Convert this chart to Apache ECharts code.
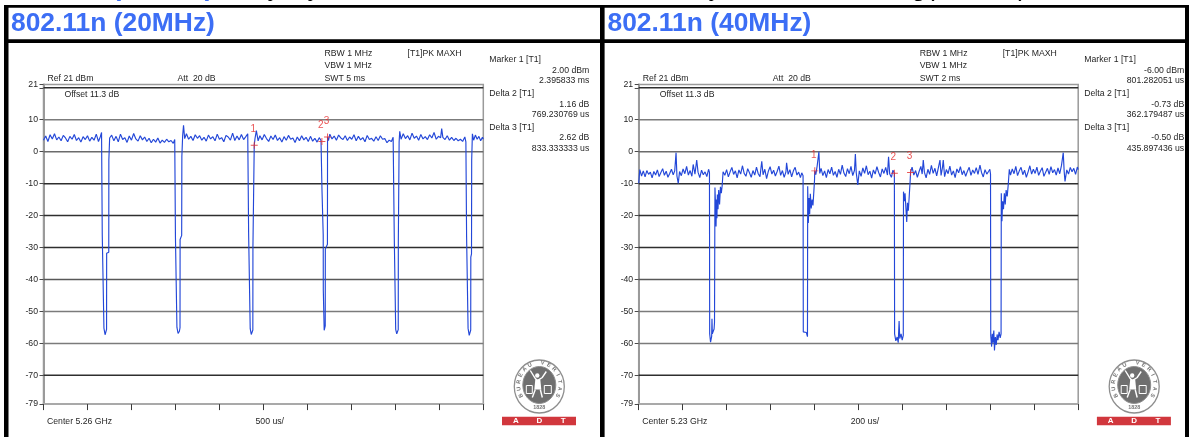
<!DOCTYPE html>
<html><head><meta charset="utf-8">
<script src="https://cdn.jsdelivr.net/npm/echarts@6/dist/echarts.min.js"></script>
<style>html,body{margin:0;padding:0;background:#fff}#c{width:1189px;height:437px}</style>
</head><body><div id="c"></div>
<script>
// ---------------- data ----------------
const titles = ['802.11n (20MHz)', '802.11n (40MHz)'];
const yTickValues = [21, 20, 10, 0, -10, -20, -30, -40, -50, -60, -70, -79];
const yLabelValues = [21, 10, 0, -10, -20, -30, -40, -50, -60, -70, -79];
const gridLevels = [20, 10, 0, -10, -20, -30, -40, -50, -60, -70];
const sweep20 = [0, 5];     // ms, 500 us/div
const sweep40 = [0, 2];     // ms, 200 us/div
const div20 = 0.5;
const div40 = 0.2;
const markerNames = ['1', '2', '3'];
const markers20 = [[2.395833, 2.00], [3.165064, 3.16], [3.229166, 4.62]];
const markers40 = [[0.801282, -6.00], [1.163461, -6.73], [1.237179, -6.50]];
const setup20 = ['Ref 21 dBm', 'Att  20 dB', 'RBW 1 MHz', 'VBW 1 MHz', 'SWT 5 ms', '[T1]PK MAXH', 'Offset 11.3 dB', 'Center 5.26 GHz', '500 us/'];
const setup40 = ['Ref 21 dBm', 'Att  20 dB', 'RBW 1 MHz', 'VBW 1 MHz', 'SWT 2 ms', '[T1]PK MAXH', 'Offset 11.3 dB', 'Center 5.23 GHz', '200 us/'];
const readout20 = ['Marker 1 [T1]', '2.00 dBm', '2.395833 ms', 'Delta 2 [T1]', '1.16 dB', '769.230769 us', 'Delta 3 [T1]', '2.62 dB', '833.333333 us'];
const readout40 = ['Marker 1 [T1]', '-6.00 dBm', '801.282051 us', 'Delta 2 [T1]', '-0.73 dB', '362.179487 us', 'Delta 3 [T1]', '-0.50 dB', '435.897436 us'];

// trace: [time ms, level dBm]
const trace20 = [
[0,3.6],[0.025,4.9],[0.05,3.2],[0.075,5.3],[0.1,4.0],[0.125,5.6],[0.15,3.7],[0.175,4.6],[0.2,3.4],[0.225,5.1],[0.25,4.3],[0.275,3.1],[0.3,4.8],[0.325,3.9],[0.35,5.4],[0.375,3.5],[0.4,4.4],[0.425,3.0],[0.45,4.7],[0.475,3.8],[0.5,5.0],[0.525,3.3],[0.55,4.5],[0.575,3.6],[0.6,5.5],[0.625,3.2],[0.645,4.6],[0.66,6.0],
[0.668,-26.0],[0.686,-26.4],[0.687,-55.2],[0.7,-57.3],[0.712,-56.8],[0.717,-55.6],[0.718,-31.8],[0.742,-31.5],[0.743,-2.6],[0.752,4.3],
[0.775,5.2],[0.8,3.4],[0.825,4.8],[0.85,3.1],[0.875,5.5],[0.9,3.8],[0.925,4.4],[0.95,2.9],[0.975,4.9],[1.0,3.6],[1.025,5.7],[1.05,4.0],[1.075,3.3],[1.1,5.0],[1.125,3.7],[1.15,4.6],[1.175,3.2],[1.2,4.2],[1.225,2.8],[1.25,3.9],[1.275,3.0],[1.3,4.3],[1.325,2.7],[1.35,3.6],[1.375,2.9],[1.4,3.9],[1.425,3.1],[1.45,3.5],[1.475,2.6],[1.492,3.8],
[1.5,-26.6],[1.516,-27.0],[1.517,-55.0],[1.53,-56.9],[1.545,-56.2],[1.552,-55.1],[1.553,-27.5],[1.571,-26.2],[1.573,-1.5],[1.582,5.0],[1.592,8.3],
[1.605,4.1],[1.625,5.6],[1.65,3.9],[1.675,4.8],[1.7,3.5],[1.725,5.3],[1.75,4.2],[1.775,5.0],[1.8,3.6],[1.825,4.5],[1.85,3.3],[1.875,5.2],[1.9,4.0],[1.925,4.7],[1.95,3.4],[1.975,5.5],[2.0,3.9],[2.025,4.4],[2.05,3.1],[2.075,5.1],[2.1,4.6],[2.125,3.6],[2.15,5.8],[2.175,3.5],[2.2,4.9],[2.225,3.7],[2.25,5.4],[2.275,3.8],[2.3,4.7],[2.322,5.6],
[2.332,-25.5],[2.349,-25.9],[2.35,-55.4],[2.362,-57.2],[2.374,-56.9],[2.38,-55.8],[2.381,-30.0],[2.394,-29.5],[2.3958,2.0],[2.405,4.2],
[2.42,6.6],[2.44,3.4],[2.46,5.0],[2.485,3.7],[2.51,5.4],[2.535,4.1],[2.56,3.2],[2.585,4.9],[2.61,3.8],[2.635,5.2],[2.66,3.5],[2.685,4.4],[2.71,3.0],[2.735,4.7],[2.76,3.6],[2.785,5.1],[2.81,3.9],[2.835,4.3],[2.86,2.9],[2.885,4.6],[2.91,3.4],[2.935,5.0],[2.96,3.7],[2.985,4.5],[3.01,3.2],[3.035,4.8],[3.06,3.3],[3.085,4.2],[3.11,3.0],[3.135,4.4],[3.155,3.5],
[3.1651,3.16],[3.166,-12.0],[3.18,-26.0],[3.181,-43.3],[3.19,-43.6],[3.191,-55.9],[3.203,-54.5],[3.204,-30.5],[3.228,-29.0],[3.2292,4.62],[3.24,3.5],
[3.255,5.5],[3.28,4.0],[3.305,4.9],[3.33,3.6],[3.355,5.2],[3.38,4.3],[3.405,3.8],[3.43,5.0],[3.455,3.5],[3.48,4.6],[3.505,3.9],[3.53,5.3],[3.555,3.4],[3.58,4.8],[3.605,3.7],[3.63,4.4],[3.655,3.1],[3.68,5.1],[3.705,3.8],[3.73,4.2],[3.755,3.3],[3.78,4.7],[3.805,3.5],[3.83,5.0],[3.855,3.9],[3.88,4.1],[3.905,2.8],[3.93,3.6],[3.955,3.2],[3.975,4.5],
[3.988,-27.0],[4.003,-27.3],[4.004,-55.6],[4.016,-57.0],[4.028,-56.5],[4.033,-55.7],[4.034,-28.0],[4.041,-27.5],[4.043,3.0],[4.05,6.4],
[4.065,3.9],[4.09,5.6],[4.115,4.1],[4.14,5.0],[4.165,3.7],[4.19,5.8],[4.215,4.2],[4.24,4.9],[4.265,3.6],[4.29,5.4],[4.315,4.0],[4.34,4.7],[4.365,3.8],[4.39,5.3],[4.415,4.3],[4.44,6.0],[4.465,3.9],[4.49,4.8],[4.515,4.4],[4.527,7.2],[4.54,4.5],[4.565,3.8],[4.59,5.0],[4.615,3.6],[4.64,4.5],[4.665,3.5],[4.69,4.2],[4.715,3.4],[4.74,3.9],[4.765,3.2],[4.79,4.6],[4.802,3.1],
[4.81,-26.5],[4.826,-27.0],[4.827,-55.3],[4.84,-57.5],[4.852,-57.0],[4.857,-55.8],[4.858,-33.0],[4.866,-32.0],[4.868,-2.6],[4.876,5.6],
[4.89,3.6],[4.91,5.2],[4.93,3.9],[4.95,4.8],[4.97,3.4],[4.99,4.5],[5.0,3.9]
];

const trace40 = [
[0,-9.9],[0.005,-5.6],[0.013,-7.6],[0.021,-6.0],[0.029,-7.9],[0.037,-5.9],[0.045,-7.1],[0.053,-6.4],[0.061,-8.2],[0.069,-6.2],[0.077,-7.3],[0.085,-5.7],[0.093,-7.8],[0.101,-6.5],[0.109,-5.3],[0.117,-7.4],[0.125,-6.1],[0.133,-8.0],[0.141,-6.8],[0.149,-5.5],[0.157,-7.2],[0.164,-6.0],[0.17,-0.3],[0.174,-7.6],[0.18,-9.9],[0.186,-6.2],[0.194,-7.5],[0.202,-5.4],[0.21,-6.9],[0.218,-4.6],[0.226,-7.3],[0.234,-5.9],[0.242,-7.7],[0.248,-4.0],[0.256,-7.0],[0.264,-2.6],[0.27,-6.4],[0.278,-8.1],[0.286,-5.8],[0.294,-7.2],[0.302,-6.3],[0.31,-7.8],[0.318,-5.5],[0.322,-6.5],
[0.323,-57.0],[0.327,-59.6],[0.332,-57.8],[0.3335,-52.3],[0.335,-57.0],[0.343,-55.5],[0.345,-53.4],[0.347,-11.2],[0.35,-17.5],[0.352,-23.4],[0.354,-15.0],[0.356,-20.8],[0.358,-13.4],[0.361,-18.0],[0.364,-12.0],[0.368,-16.5],[0.372,-11.0],[0.376,-13.0],[0.38,-10.5],[0.384,-6.3],
[0.392,-7.4],[0.4,-5.6],[0.408,-7.9],[0.416,-6.3],[0.424,-4.9],[0.432,-7.1],[0.44,-6.0],[0.448,-8.2],[0.456,-5.7],[0.464,-7.0],[0.472,-4.4],[0.48,-6.8],[0.488,-7.7],[0.496,-5.3],[0.504,-6.6],[0.512,-8.0],[0.52,-5.9],[0.528,-7.3],[0.536,-4.8],[0.544,-6.9],[0.552,-7.8],[0.56,-3.0],[0.566,-7.2],[0.574,-5.5],[0.582,-8.4],[0.59,-6.1],[0.598,-4.7],[0.606,-7.0],[0.614,-5.8],[0.622,-7.6],[0.63,-6.2],[0.638,-4.5],[0.646,-7.4],[0.654,-5.9],[0.662,-8.0],[0.67,-6.3],[0.673,-3.5],[0.68,-7.1],[0.688,-5.6],[0.696,-7.9],[0.704,-6.0],[0.712,-4.9],[0.72,-7.3],[0.728,-6.4],[0.736,-8.1],[0.742,-6.6],
[0.748,-7.5],[0.749,-56.4],[0.756,-57.0],[0.763,-56.6],[0.768,-57.9],[0.769,-10.8],[0.772,-22.3],[0.775,-14.5],[0.778,-19.6],[0.781,-13.2],[0.785,-17.8],[0.789,-15.0],[0.793,-16.8],[0.797,-12.5],[0.8,-9.0],[0.801282,-6.0],
[0.806,-7.2],[0.812,-4.5],[0.82,0.0],[0.824,-6.8],[0.83,-5.2],[0.838,-7.5],[0.846,-6.0],[0.854,-8.1],[0.862,-5.6],[0.87,-6.9],[0.878,-4.8],[0.886,-7.4],[0.894,-6.2],[0.902,-8.0],[0.91,-5.5],[0.918,-7.1],[0.926,-4.2],[0.934,-6.7],[0.942,-7.8],[0.95,-5.3],[0.958,-6.9],[0.966,-4.6],[0.974,-7.5],[0.982,-5.8],[0.986,-0.7],[0.99,-6.6],[0.997,-10.4],[1.004,-6.0],[1.012,-7.7],[1.02,-5.1],[1.028,-6.8],[1.036,-4.4],[1.044,-7.2],[1.052,-6.1],[1.06,-8.3],[1.068,-5.7],[1.076,-7.0],[1.084,-4.7],[1.092,-6.5],[1.1,-7.9],[1.108,-5.4],[1.116,-6.8],[1.124,-4.9],[1.132,-7.3],[1.137,-1.6],[1.142,-6.9],[1.15,-8.0],[1.157,-5.8],
[1.163461,-6.73],[1.1645,-57.0],[1.17,-59.2],[1.176,-58.0],[1.181,-59.8],[1.185,-53.0],[1.188,-58.5],[1.194,-57.0],[1.199,-59.0],[1.204,-57.5],[1.205,-12.5],[1.209,-15.5],[1.212,-13.0],[1.2197,-22.0],[1.223,-16.0],[1.227,-18.5],[1.231,-14.0],[1.235,-9.5],[1.237179,-6.5],
[1.244,-4.8],[1.252,-7.3],[1.26,-5.9],[1.268,-8.0],[1.276,-6.2],[1.284,-4.6],[1.29,-7.0],[1.295,-2.6],[1.3,-6.4],[1.308,-8.2],[1.316,-5.5],[1.324,-7.1],[1.332,-4.3],[1.34,-6.8],[1.348,-5.2],[1.356,-7.6],[1.364,-4.9],[1.371,-2.6],[1.376,-7.4],[1.382,-5.1],[1.386,-2.6],[1.392,-7.8],[1.4,-5.6],[1.408,-6.9],[1.416,-4.5],[1.424,-7.3],[1.432,-6.0],[1.44,-8.1],[1.448,-5.4],[1.456,-6.6],[1.464,-4.7],[1.472,-7.2],[1.48,-5.9],[1.488,-7.7],[1.496,-6.1],[1.504,-4.9],[1.512,-7.4],[1.52,-5.7],[1.528,-6.8],[1.536,-5.0],[1.544,-7.1],[1.553,-4.2],[1.56,-6.5],[1.568,-7.9],[1.576,-5.6],[1.584,-7.0],[1.592,-6.2],[1.598,-5.5],
[1.601,-7.0],[1.602,-57.5],[1.606,-61.0],[1.609,-57.0],[1.612,-59.8],[1.616,-56.0],[1.619,-62.2],[1.623,-58.0],[1.627,-60.5],[1.631,-57.2],[1.635,-59.0],[1.64,-56.4],[1.645,-58.3],[1.649,-57.0],[1.65,-13.0],[1.653,-21.8],[1.656,-15.5],[1.66,-18.0],[1.664,-13.0],[1.668,-16.5],[1.672,-12.0],[1.677,-14.0],[1.682,-10.0],[1.6865,-5.5],
[1.692,-7.3],[1.7,-5.4],[1.708,-6.9],[1.716,-4.6],[1.724,-7.5],[1.732,-6.0],[1.74,-4.9],[1.748,-7.2],[1.756,-5.8],[1.764,-8.0],[1.772,-6.3],[1.78,-4.4],[1.788,-7.0],[1.796,-5.5],[1.804,-6.8],[1.812,-4.8],[1.82,-7.4],[1.828,-6.1],[1.836,-5.0],[1.844,-7.7],[1.852,-6.4],[1.86,-5.2],[1.868,-7.1],[1.876,-4.7],[1.884,-6.6],[1.892,-5.6],[1.9,-7.3],[1.908,-5.1],[1.916,-6.9],[1.924,-4.3],[1.932,-0.3],[1.936,-6.0],[1.94,-9.3],[1.948,-5.7],[1.956,-7.0],[1.964,-4.9],[1.972,-6.3],[1.98,-5.2],[1.988,-7.1],[1.996,-4.8],[2.0,-5.6]
];

// ---------------- styles / layout ----------------
const FONT = "'Liberation Sans', Arial, Helvetica, sans-serif";
const TXT = '#262626';
const BLUE_TITLE = '#3c6ef5';
const TRACE = '#2347d8';
const RED = '#e52a2a';
const gridLineColors = ['#2e2e2e', '#7b7b7b', '#6b6b6b', '#2e2e2e', '#2e2e2e', '#2e2e2e', '#585858', '#7b7b7b', '#7b7b7b', '#2e2e2e'];
const TOP = 84.6, BOTTOM = 404.1;
const panels = [
  { L: 43.5, R: 483.3, sweep: sweep20, div: div20, trace: trace20, markers: markers20, setup: setup20, readout: readout20, titleX: 11 },
  { L: 638.7, R: 1078.2, sweep: sweep40, div: div40, trace: trace40, markers: markers40, setup: setup40, readout: readout40, titleX: 607.5 }
];

function txt(x, y, s, o) {
  o = o || {};
  return { type: 'text', x: x, y: y, silent: true, z: 20,
    style: { text: s, fill: o.color || TXT,
      font: (o.weight || 'normal') + ' ' + (o.size || 8.7) + 'px ' + FONT,
      textAlign: o.align || 'left', align: o.align || 'left',
      textVerticalAlign: 'middle', verticalAlign: 'middle' } };
}
function rect(x, y, w, h, fill) {
  return { type: 'rect', shape: { x: x, y: y, width: w, height: h }, style: { fill: fill }, silent: true, z: 30 };
}

const graphics = [];
// table borders
graphics.push(rect(4, 5, 1185, 2.8, '#000'));
graphics.push(rect(4, 39.3, 1185, 3.7, '#000'));
graphics.push(rect(4, 5, 4.5, 432, '#000'));
graphics.push(rect(600, 5, 4.6, 432, '#000'));
graphics.push(rect(1185, 5, 4, 432, '#000'));
// partially visible caption of the row above (cut by the page edge)
const CAP_Y = -10.8;
graphics.push(txt(11, CAP_Y, '802.11a (20MHz)', { size: 26.4, weight: 'bold', color: BLUE_TITLE }));
graphics.push(txt(227, CAP_Y, 'Duty', { size: 26, color: '#000' }));
graphics.push(txt(294.5, CAP_Y, 'cycle', { size: 26, color: '#000' }));
graphics.push(txt(661, CAP_Y, '%,', { size: 26, color: '#000', align: 'right' }));
graphics.push(txt(668, CAP_Y, 'Duty', { size: 26, color: '#000' }));
graphics.push(txt(845, CAP_Y, 'Setting(', { size: 26, color: '#000' }));
graphics.push(txt(1027, CAP_Y, 'ms)', { size: 26, color: '#000', align: 'right' }));

function logo(cx) {
  const cy = 386.5;
  const g = [];
  g.push({ type: 'ellipse', shape: { cx: cx, cy: cy, rx: 25, ry: 26.5 }, style: { fill: '#fff', stroke: '#8e8e8e', lineWidth: 1.3 }, silent: true, z: 20 });
  g.push({ type: 'ellipse', shape: { cx: cx, cy: cy - 1.5, rx: 16.5, ry: 18.5 }, style: { fill: '#6f6f6f', stroke: '#8e8e8e', lineWidth: 1 }, silent: true, z: 21 });
  const letters = 'BUREAU VERITAS'.split('');
  const a0 = 208 * Math.PI / 180, a1 = -28 * Math.PI / 180;
  letters.forEach(function (ch, i) {
    const th = a0 + (a1 - a0) * i / (letters.length - 1);
    g.push({ type: 'text', x: cx + 20.8 * Math.cos(th), y: cy - 1.5 - 22.3 * Math.sin(th), rotation: th - Math.PI / 2, silent: true, z: 22,
      style: { text: ch, fill: '#777', font: 'bold 5.6px ' + FONT, textAlign: 'center', align: 'center', textVerticalAlign: 'middle', verticalAlign: 'middle' } });
  });
  g.push(txt(cx, cy + 20.8, '1828', { size: 5.4, weight: 'bold', color: '#777', align: 'center' }));
  // stylised white figure
  g.push({ type: 'circle', shape: { cx: cx - 2, cy: cy - 11, r: 2.2 }, style: { fill: '#fff' }, silent: true, z: 23 });
  g.push({ type: 'polyline', shape: { points: [[cx - 9, cy - 16], [cx - 4, cy - 8], [cx - 2, cy - 6], [cx + 3, cy - 9], [cx + 7, cy - 15]] }, style: { stroke: '#fff', lineWidth: 1.4, fill: null }, silent: true, z: 23 });
  g.push({ type: 'polygon', shape: { points: [[cx - 4, cy - 7], [cx + 1, cy - 7], [cx + 2, cy + 3], [cx - 5, cy + 3]] }, style: { fill: '#fff' }, silent: true, z: 23 });
  g.push({ type: 'polyline', shape: { points: [[cx - 4, cy + 3], [cx - 7, cy + 11]] }, style: { stroke: '#fff', lineWidth: 1.4 }, silent: true, z: 23 });
  g.push({ type: 'polyline', shape: { points: [[cx + 1, cy + 3], [cx + 3, cy + 11]] }, style: { stroke: '#fff', lineWidth: 1.4 }, silent: true, z: 23 });
  g.push({ type: 'rect', shape: { x: cx - 13, y: cy - 1, width: 6, height: 8 }, style: { fill: 'none', stroke: '#fff', lineWidth: 1 }, silent: true, z: 23 });
  g.push({ type: 'rect', shape: { x: cx + 5, y: cy - 1, width: 7, height: 8 }, style: { fill: 'none', stroke: '#fff', lineWidth: 1 }, silent: true, z: 23 });
  g.push(txt(cx - 10, cy + 3, 'V', { size: 6, weight: 'bold', color: '#fff', align: 'center' }));
  g.push(txt(cx + 8.5, cy + 3, 'S', { size: 6, weight: 'bold', color: '#fff', align: 'center' }));
  // ADT bar
  g.push({ type: 'rect', shape: { x: cx - 37.3, y: 416.8, width: 74, height: 8.4 }, style: { fill: '#d1373d' }, silent: true, z: 20 });
  g.push(txt(cx - 23.5, 421.2, 'A', { size: 8, weight: 'bold', color: '#fff', align: 'center' }));
  g.push(txt(cx, 421.2, 'D', { size: 8, weight: 'bold', color: '#fff', align: 'center' }));
  g.push(txt(cx + 23.8, 421.2, 'T', { size: 8, weight: 'bold', color: '#fff', align: 'center' }));
  return g;
}

const grids = [], xAxes = [], yAxes = [], series = [];
panels.forEach(function (p, i) {
  // titles and annotation texts
  graphics.push(txt(p.titleX, 23.5, titles[i], { size: 26.4, weight: 'bold', color: BLUE_TITLE }));
  const s = p.setup;
  graphics.push(txt(p.L + 4, 78.3, s[0]));
  graphics.push(txt(p.L + 134, 78.3, s[1]));
  graphics.push(txt(p.L + 281, 53.3, s[2]));
  graphics.push(txt(p.L + 281, 65.8, s[3]));
  graphics.push(txt(p.L + 281, 78.3, s[4]));
  graphics.push(txt(p.L + 364, 53.3, s[5]));
  graphics.push(txt(p.L + 21, 95, s[6]));
  graphics.push(txt(p.L + 3.5, 421.7, s[7]));
  graphics.push(txt(p.L + 212, 421.7, s[8]));
  const ry = [60, 70.5, 80.8, 94, 104.2, 114.5, 127.8, 138, 148.8];
  p.readout.forEach(function (t, k) {
    const isLabel = (k % 3 === 0);
    graphics.push(txt(isLabel ? p.R + 6 : p.R + 106, ry[k], t, { align: isLabel ? 'left' : 'right' }));
  });
  logo(p.R + 56).forEach(function (e) { graphics.push(e); });

  grids.push({ left: p.L, top: TOP, width: p.R - p.L, height: BOTTOM - TOP, show: true, borderColor: '#9a9a9a', borderWidth: 1.5, backgroundColor: 'transparent' });
  xAxes.push({ gridIndex: i, type: 'value', min: p.sweep[0], max: p.sweep[1], interval: p.div,
    axisLine: { show: true, onZero: false, lineStyle: { color: '#a9a9a9', width: 2 } },
    axisTick: { show: true, length: 6, lineStyle: { color: '#3a3a3a', width: 1 } },
    axisLabel: { show: false }, splitLine: { show: false } });
  yAxes.push({ gridIndex: i, type: 'value', min: -79, max: 21,
    axisLine: { show: true, onZero: false, lineStyle: { color: '#9a9a9a', width: 2 } },
    axisTick: { show: true, length: 4, customValues: yTickValues, lineStyle: { color: '#4a4a4a', width: 1 } },
    axisLabel: { show: true, customValues: yLabelValues, margin: 5.5, fontSize: 8.7, color: TXT, fontFamily: FONT, showMinLabel: true, showMaxLabel: true },
    splitLine: { show: false } });
  gridLevels.forEach(function (lv, k) {
    series.push({ type: 'line', xAxisIndex: i, yAxisIndex: i, silent: true, z: 1, symbol: 'none', animation: false,
      data: [[p.sweep[0], lv], [p.sweep[1], lv]], lineStyle: { color: gridLineColors[k], width: 1.5 } });
  });
  series.push({ type: 'line', xAxisIndex: i, yAxisIndex: i, data: p.trace, showSymbol: false, symbol: 'none', silent: true, z: 3,
    animation: false, lineStyle: { color: TRACE, width: 1.15 } });
  series.push({ type: 'scatter', xAxisIndex: i, yAxisIndex: i, z: 4, silent: true, animation: false,
    data: p.markers.map(function (m, k) { return { value: m, name: markerNames[k] }; }),
    symbol: 'path://M-0.14,-1H0.14V-0.14H1V0.14H0.14V1H-0.14V0.14H-1V-0.14H-0.14Z', symbolSize: 7,
    itemStyle: { color: RED },
    label: { show: true, position: 'top', distance: 7.5, offset: [-1, 0], formatter: function (d) { return d.name; }, color: RED, fontSize: 10, fontFamily: FONT } });
});

const chart = echarts.init(document.getElementById('c'), null, { renderer: 'canvas' });
chart.setOption({
  backgroundColor: '#fff',
  animation: false,
  grid: grids, xAxis: xAxes, yAxis: yAxes, series: series,
  graphic: { elements: graphics }
});
</script></body></html>
